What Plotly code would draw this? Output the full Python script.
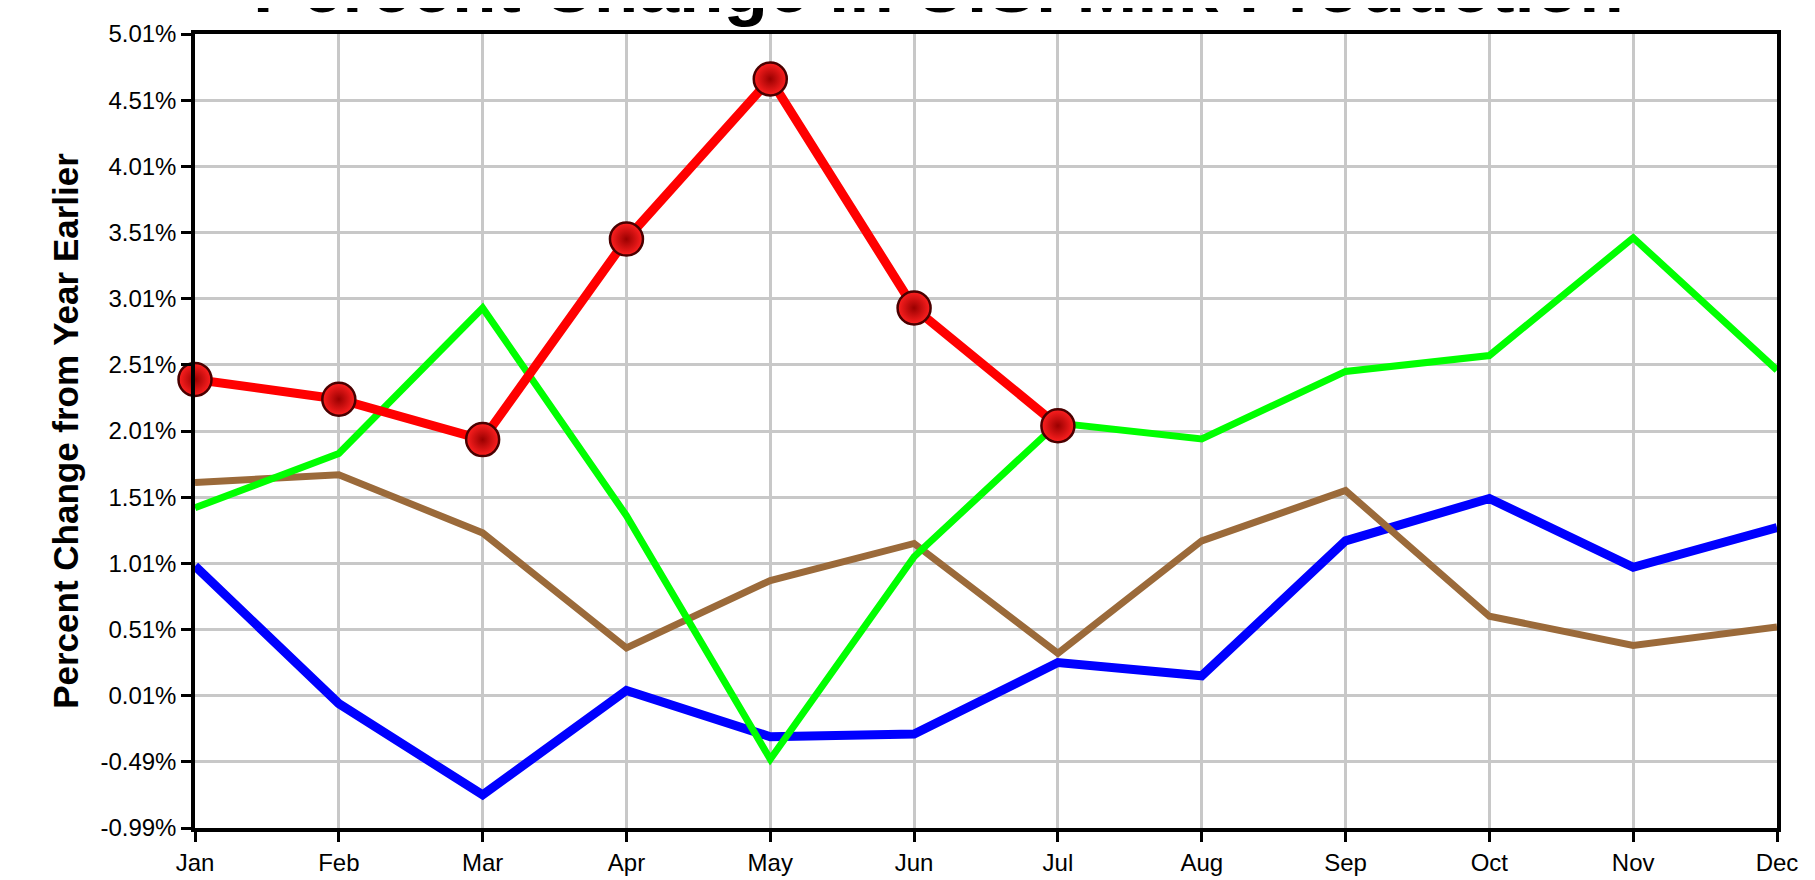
import plotly.graph_objects as go

months = ["Jan", "Feb", "Mar", "Apr", "May", "Jun", "Jul", "Aug", "Sep", "Oct", "Nov", "Dec"]

blue_vals = [0.99, -0.05, -0.74, 0.05, -0.30, -0.28, 0.26, 0.16, 1.18, 1.50, 0.98, 1.28]
brown_vals = [1.62, 1.68, 1.24, 0.37, 0.88, 1.16, 0.33, 1.18, 1.56, 0.61, 0.39, 0.53]
green_vals = [1.43, 1.84, 2.94, 1.37, -0.47, 1.06, 2.07, 1.95, 2.46, 2.58, 3.47, 2.47]
red_vals = [2.40, 2.25, 1.945, 3.46, 4.67, 2.94, 2.05]

ytick_vals = [-0.99, -0.49, 0.01, 0.51, 1.01, 1.51, 2.01, 2.51, 3.01, 3.51, 4.01, 4.51, 5.01]
ytick_text = ["%.2f%%" % v for v in ytick_vals]

title_text = "Percent Change in U.S. Milk Production"
ytitle_text = "Percent Change from Year Earlier"

fig = go.Figure()
fig.add_trace(go.Scatter(x=months, y=blue_vals, mode="lines",
                         line=dict(color="#0000ff", width=9), showlegend=False))
fig.add_trace(go.Scatter(x=months, y=brown_vals, mode="lines",
                         line=dict(color="#9b6a3a", width=7), showlegend=False))
fig.add_trace(go.Scatter(x=months, y=green_vals, mode="lines",
                         line=dict(color="#00ff00", width=7), showlegend=False))
fig.add_trace(go.Scatter(x=months[:len(red_vals)], y=red_vals, mode="lines+markers",
                         line=dict(color="#ff0000", width=9), cliponaxis=False,
                         marker=dict(size=33, color="#ff2020",
                                     gradient=dict(type="radial", color="#9a0000"),
                                     line=dict(color="#4a0000", width=2.5)),
                         showlegend=False))

W, H = 1815, 880
ml, mr, mt, mb = 187, 46, 21, 53
ph = H - mt - mb
pw = W - ml - mr

fig.add_annotation(text="<b>" + title_text + "</b>", xref="paper", yref="paper",
                   x=(930 - ml) / pw, y=1 + (mt - 16) / ph, xanchor="center", yanchor="bottom",
                   showarrow=False, font=dict(family="Arial, Liberation Sans", size=73, color="black"))

fig.update_layout(
    width=W, height=H,
    margin=dict(l=ml, r=mr, t=mt, b=mb),
    plot_bgcolor="white", paper_bgcolor="white",
    font=dict(family="Arial, Liberation Sans", color="black"),
    xaxis=dict(type="category", range=[0, 11], showgrid=True, gridcolor="#c8c8c8", gridwidth=2.5,
               showline=True, linecolor="black", linewidth=3.5, mirror=True,
               ticks="outside", ticklen=10, tickwidth=3, tickcolor="black",
               tickfont=dict(size=24), zeroline=False),
    yaxis=dict(range=[-0.99, 5.01], tickvals=ytick_vals, ticktext=ytick_text,
               showgrid=True, gridcolor="#c8c8c8", gridwidth=2.5,
               showline=True, linecolor="black", linewidth=3.5, mirror=True,
               ticks="outside", ticklen=10, tickwidth=3, tickcolor="black",
               tickfont=dict(size=24), zeroline=False,
               title=dict(text="<b>" + ytitle_text + "</b>", font=dict(size=35), standoff=12)),
)

fig.write_html("out.html")
